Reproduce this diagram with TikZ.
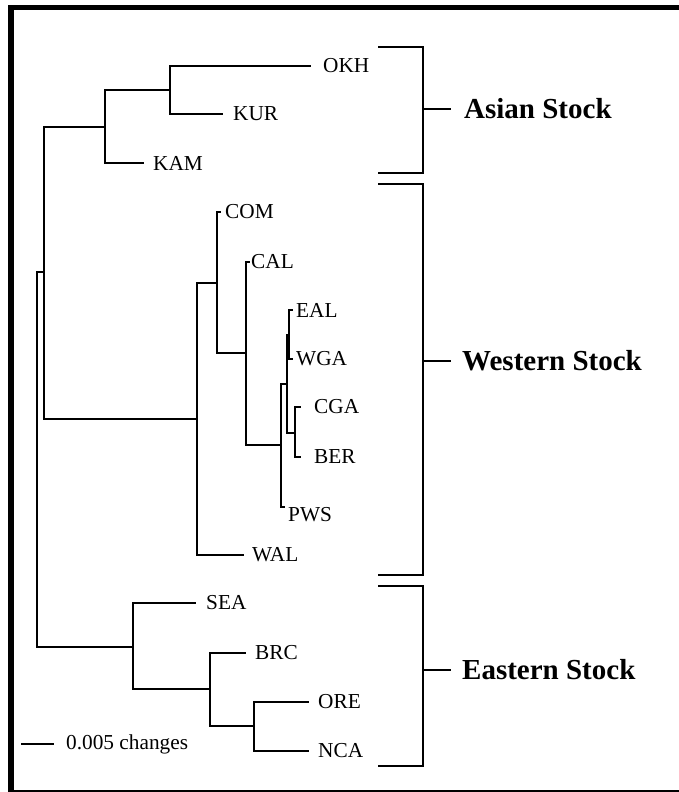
\documentclass[tikz,border=0pt]{standalone}
\usepackage{fontspec}
\setmainfont{Liberation Serif}
\begin{document}
\begin{tikzpicture}[x=1pt,y=-1pt,
  br/.style={line width=2.2pt,line cap=rect},
  brk/.style={line width=2.2pt},
  leaf/.style={anchor=west,inner sep=0pt,font=\fontsize{21.3}{23}\selectfont},
  stock/.style={anchor=west,inner sep=0pt,font=\fontsize{29}{31}\bfseries\selectfont}]
\useasboundingbox (0,0) rectangle (679,792);
% frame
\draw[line width=5.5pt] (11,792) -- (11,7.5) -- (679,7.5);
\draw[line width=2pt] (8,791) -- (679,791);
% leaf ends
\coordinate (OKH) at (310,66);
\coordinate (KUR) at (222,114);
\coordinate (KAM) at (143,163);
\coordinate (COM) at (220,212);
\coordinate (CAL) at (249,262);
\coordinate (EAL) at (292,310);
\coordinate (WGA) at (292,359);
\coordinate (CGA) at (300,407);
\coordinate (BER) at (300,457);
\coordinate (PWS) at (284,507);
\coordinate (WAL) at (243,555);
\coordinate (SEA) at (195,603);
\coordinate (BRC) at (245,653);
\coordinate (ORE) at (308,702);
\coordinate (NCA) at (308,751);
% labels
\node[leaf] (lOKH) at (323,66) {OKH};
\node[leaf] (lKUR) at (233,114) {KUR};
\node[leaf] (lKAM) at (153,163) {KAM};
\node[leaf] (lCOM) at (225,212) {COM};
\node[leaf] (lCAL) at (251,262) {CAL};
\node[leaf] (lEAL) at (296,310) {EAL};
\node[leaf] (lWGA) at (296,359) {WGA};
\node[leaf] (lCGA) at (314,407) {CGA};
\node[leaf] (lBER) at (314,457) {BER};
\node[leaf] (lPWS) at (288,515) {PWS};
\node[leaf] (lWAL) at (252,555) {WAL};
\node[leaf] (lSEA) at (206,603) {SEA};
\node[leaf] (lBRC) at (255,653) {BRC};
\node[leaf] (lORE) at (318,702) {ORE};
\node[leaf] (lNCA) at (318,751) {NCA};
% Asian clade
\draw[br] (OKH) -| (170,90) |- (KUR);
\draw[br] (170,90) -| (105,127) |- (KAM);
\draw[br] (105,127) -| (44,272);
% Western clade
\draw[br] (EAL) -| (289,335) |- (WGA);
\draw[br] (CGA) -| (295,433) |- (BER);
\draw[br] (289,335) -| (287,384) |- (295,433);
\draw[br] (287,384) -| (281,445) |- (PWS);
\draw[br] (CAL) -| (246,353) |- (281,445);
\draw[br] (COM) -| (217,283) |- (246,353);
\draw[br] (217,283) -| (197,419) |- (WAL);
\draw[br] (197,419) -| (44,272);
% root
\draw[br] (44,272) -| (37,647);
% Eastern clade
\draw[br] (ORE) -| (254,726) |- (NCA);
\draw[br] (BRC) -| (210,689) |- (254,726);
\draw[br] (SEA) -| (133,647) |- (210,689);
\draw[br] (133,647) -- (37,647);
% scale bar
\coordinate (sb1) at (21,744);
\coordinate (sb2) at (54,744);
\draw[line width=2.2pt] (sb1) -- (sb2);
\node[anchor=west,inner sep=0pt,font=\fontsize{21.3}{23}\selectfont] (scl) at (66,744) {0.005 changes};
% brackets
\coordinate (aT) at (378,47); \coordinate (aB) at (378,173);
\coordinate (wT) at (378,184); \coordinate (wB) at (378,575);
\coordinate (eT) at (378,586); \coordinate (eB) at (378,766);
\draw[brk] (aT) -- (423,47) -- (423,173) -- (aB);
\draw[brk] (wT) -- (423,184) -- (423,575) -- (wB);
\draw[brk] (eT) -- (423,586) -- (423,766) -- (eB);
\node[stock] (asian) at (464,109) {Asian Stock};
\node[stock] (western) at (462,361) {Western Stock};
\node[stock] (eastern) at (462,670) {Eastern Stock};
\draw[brk] (423,109) -- (451,109);
\draw[brk] (423,361) -- (451,361);
\draw[brk] (423,670) -- (451,670);
\end{tikzpicture}
\end{document}
